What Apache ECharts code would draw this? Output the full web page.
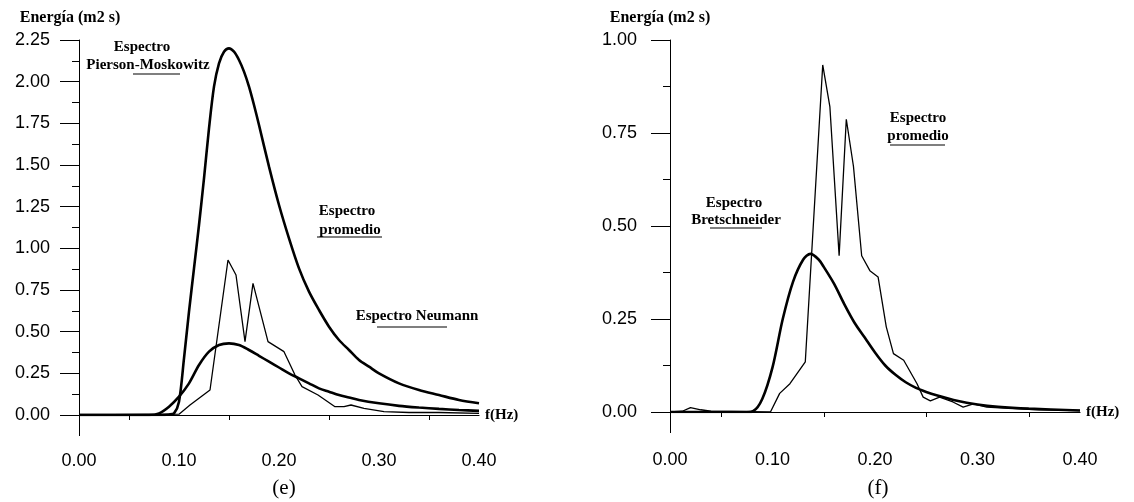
<!DOCTYPE html>
<html>
<head>
<meta charset="utf-8">
<script src="https://cdn.jsdelivr.net/npm/echarts@6/dist/echarts.min.js"></script>
<style>
  html, body { margin: 0; background: #fff; }
  #chart { width: 1134px; height: 502px; }
</style>
</head>
<body>
<div id="chart"></div>
<script>
// ---- panel (e) ----
const pmFreq = [0, 0.08, 0.09, 0.095, 0.10, 0.105, 0.11, 0.115, 0.12, 0.125, 0.13, 0.135, 0.14, 0.145, 0.15, 0.155, 0.16, 0.165, 0.17, 0.175, 0.18, 0.19, 0.20, 0.21, 0.22, 0.23, 0.24, 0.25, 0.26, 0.27, 0.28, 0.29, 0.30, 0.32, 0.34, 0.36, 0.38, 0.40];
const pmEnergy = [0, 0, 0.003, 0.01, 0.08, 0.34, 0.62, 0.88, 1.14, 1.42, 1.72, 1.97, 2.11, 2.18, 2.20, 2.18, 2.13, 2.06, 1.97, 1.86, 1.74, 1.49, 1.26, 1.06, 0.88, 0.74, 0.63, 0.53, 0.45, 0.39, 0.33, 0.29, 0.25, 0.19, 0.15, 0.12, 0.09, 0.07];

const neuFreq = [0, 0.07, 0.08, 0.09, 0.10, 0.11, 0.12, 0.13, 0.14, 0.15, 0.16, 0.17, 0.18, 0.19, 0.20, 0.21, 0.22, 0.23, 0.24, 0.25, 0.26, 0.27, 0.28, 0.30, 0.32, 0.34, 0.36, 0.38, 0.40];
const neuEnergy = [0, 0, 0.01, 0.05, 0.11, 0.19, 0.30, 0.38, 0.42, 0.43, 0.42, 0.39, 0.355, 0.32, 0.285, 0.25, 0.22, 0.19, 0.16, 0.14, 0.12, 0.105, 0.09, 0.07, 0.055, 0.045, 0.037, 0.03, 0.025];

const promFreqE = [0, 0.100, 0.111, 0.131, 0.149, 0.157, 0.166, 0.174, 0.189, 0.205, 0.216, 0.223, 0.239, 0.256, 0.265, 0.272, 0.285, 0.305, 0.33, 0.36, 0.40];
const promEnergyE = [0, 0.005, 0.06, 0.15, 0.93, 0.84, 0.44, 0.79, 0.44, 0.38, 0.24, 0.17, 0.12, 0.05, 0.05, 0.06, 0.04, 0.02, 0.015, 0.015, 0.01];

// ---- panel (f) ----
const bretFreq = [0, 0.075, 0.081, 0.09, 0.10, 0.11, 0.12, 0.13, 0.137, 0.145, 0.15, 0.16, 0.17, 0.18, 0.19, 0.20, 0.21, 0.22, 0.23, 0.24, 0.25, 0.26, 0.28, 0.30, 0.32, 0.35, 0.40];
const bretEnergy = [0, 0, 0.002, 0.035, 0.12, 0.25, 0.35, 0.41, 0.425, 0.41, 0.39, 0.345, 0.29, 0.24, 0.20, 0.16, 0.125, 0.10, 0.08, 0.065, 0.054, 0.045, 0.03, 0.02, 0.014, 0.009, 0.004];

const promFreqF = [0, 0.012, 0.02, 0.03, 0.04, 0.098, 0.107, 0.117, 0.132, 0.149, 0.156, 0.165, 0.172, 0.179, 0.187, 0.195, 0.203, 0.211, 0.218, 0.228, 0.241, 0.247, 0.254, 0.263, 0.276, 0.286, 0.296, 0.309, 0.33, 0.36, 0.40];
const promEnergyF = [0, 0.002, 0.012, 0.006, 0.002, 0, 0.05, 0.076, 0.135, 0.933, 0.82, 0.42, 0.787, 0.66, 0.42, 0.38, 0.363, 0.229, 0.157, 0.139, 0.076, 0.04, 0.03, 0.04, 0.027, 0.013, 0.022, 0.013, 0.01, 0.006, 0.004];

const yTicksE = { max: 2.25, step: 0.25 };
const yTicksF = { max: 1.00, step: 0.25 };
const xTicks = { max: 0.40, step: 0.10 };

const zip = (xs, ys) => xs.map((x, i) => [x, ys[i]]);

const serif = '"Liberation Serif", "DejaVu Serif", serif';
const sans = '"Liberation Sans", Arial, sans-serif';

function makeXAxis(gridIndex, labelMargin) {
  return {
    gridIndex,
    type: 'value',
    min: 0,
    max: xTicks.max,
    interval: xTicks.step,
    name: 'f(Hz)',
    nameLocation: 'end',
    nameGap: 6,
    nameTextStyle: { fontFamily: serif, fontWeight: 'bold', fontSize: 15, color: '#000', verticalAlign: 'middle' },
    axisLine: { lineStyle: { color: '#000', width: 1.2 } },
    // the tick at 0 doubles as the stub of the y axis below the baseline
    axisTick: { show: true, customValues: [0], length: 21, lineStyle: { color: '#000', width: 1 } },
    minorTick: { show: true, splitNumber: 2, length: 5, lineStyle: { color: '#000' } },
    axisLabel: { margin: labelMargin, fontFamily: sans, fontSize: 18, color: '#000', formatter: (v) => v.toFixed(2) },
    splitLine: { show: false },
  };
}

function makeYAxis(gridIndex, ticks, labelMargin, namePad) {
  return {
    gridIndex,
    type: 'value',
    min: 0,
    max: ticks.max,
    interval: ticks.step,
    name: 'Energía (m2 s)',
    nameLocation: 'end',
    nameGap: 14,
    nameTextStyle: { fontFamily: serif, fontWeight: 'bold', fontSize: 16, color: '#000', padding: [0, namePad, 0, 0] },
    axisLine: { show: true, lineStyle: { color: '#000', width: 1 } },
    axisTick: { show: true, length: 19, lineStyle: { color: '#000' } },
    minorTick: { show: true, splitNumber: 2, length: 7, lineStyle: { color: '#000' } },
    axisLabel: { margin: labelMargin, fontFamily: sans, fontSize: 18, color: '#000', formatter: (v) => v.toFixed(2) },
    splitLine: { show: false },
  };
}

function curve(name, xi, xs, ys, bold) {
  return {
    name,
    type: 'line',
    xAxisIndex: xi,
    yAxisIndex: xi,
    data: zip(xs, ys),
    smooth: bold ? 0.3 : false,
    symbol: 'none',
    silent: true,
    lineStyle: { color: '#000', width: bold ? 2.6 : 1.3 },
  };
}

function note(x, y, text, size, weight) {
  return {
    type: 'text',
    x, y,
    style: {
      text,
      font: (weight || 'bold') + ' ' + (size || 15) + 'px ' + serif,
      fill: '#000',
      align: 'center', verticalAlign: 'middle',
      textAlign: 'center', textVerticalAlign: 'middle',
    },
  };
}

function underline(x1, x2, y) {
  return { type: 'line', shape: { x1, y1: y, x2, y2: y }, style: { stroke: '#000', lineWidth: 1.2 } };
}

const chart = echarts.init(document.getElementById('chart'), null, { renderer: 'canvas' });

chart.setOption({
  backgroundColor: '#fff',
  animation: false,
  grid: [
    { left: 79, top: 40, width: 400, height: 375 },
    { left: 670, top: 40, width: 410, height: 372 },
  ],
  xAxis: [makeXAxis(0, 37), makeXAxis(1, 39)],
  yAxis: [makeYAxis(0, yTicksE, 29, 18), makeYAxis(1, yTicksF, 33, 20)],
  series: [
    curve('Pierson-Moskowitz', 0, pmFreq, pmEnergy, true),
    curve('Neumann', 0, neuFreq, neuEnergy, true),
    curve('Promedio (e)', 0, promFreqE, promEnergyE, false),
    curve('Bretschneider', 1, bretFreq, bretEnergy, true),
    curve('Promedio (f)', 1, promFreqF, promEnergyF, false),
  ],
  graphic: [
    // panel (e) notes
    note(142, 47, 'Espectro'),
    note(148, 65, 'Pierson-Moskowitz'),
    underline(133, 180, 74),
    note(347, 211, 'Espectro'),
    note(350, 230, 'promedio'),
    underline(317, 382, 237),
    note(417, 316, 'Espectro Neumann'),
    underline(377, 447, 327),
    // panel (f) notes
    note(734, 203, 'Espectro'),
    note(736, 220, 'Bretschneider'),
    underline(710, 762, 228),
    note(918, 118, 'Espectro'),
    note(918, 136, 'promedio'),
    underline(890, 945, 145),
    // panel captions
    note(284, 488, '(e)', 21, 'normal'),
    note(878, 488, '(f)', 21, 'normal'),
  ],
});
</script>
</body>
</html>
